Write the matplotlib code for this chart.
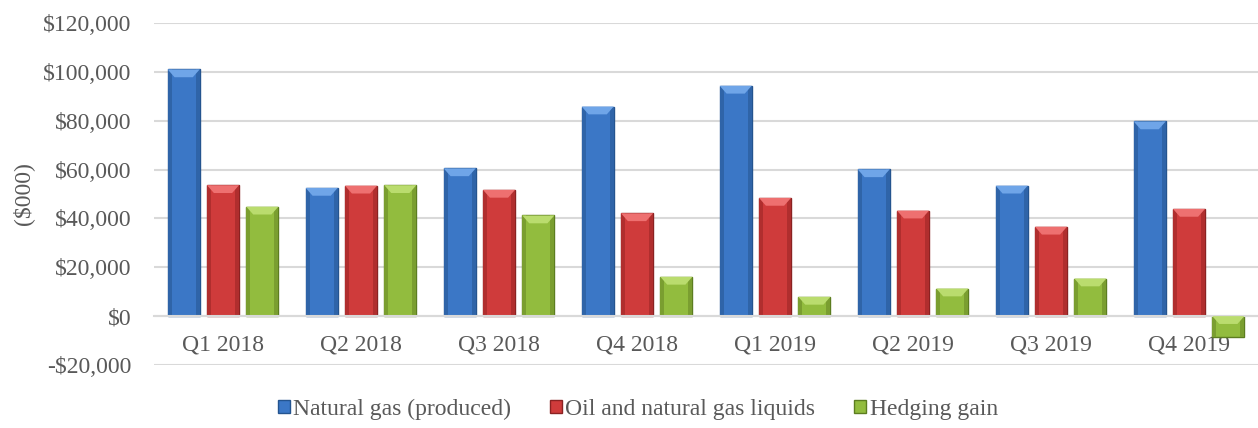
import numpy as np
import matplotlib
matplotlib.use('Agg')
import matplotlib.pyplot as plt
from matplotlib.patches import Polygon
from matplotlib.ticker import FuncFormatter

quarters = ['Q1 2018', 'Q2 2018', 'Q3 2018', 'Q4 2018', 'Q1 2019', 'Q2 2019', 'Q3 2019', 'Q4 2019']
natural_gas = [101000, 52500, 60500, 85800, 94300, 60100, 53400, 79700]
oil_ngl = [53600, 53400, 51700, 42100, 48400, 43200, 36600, 43900]
hedging = [44800, 53600, 41200, 16100, 7900, 11300, 15400, -8500]

series_names = ['Natural gas (produced)', 'Oil and natural gas liquids', 'Hedging gain']
face_cols = ['#3B77C6', '#CF3B3B', '#92BC3E']
edge_cols = ['#24548F', '#8A2222', '#5C7D20']
bevel_cols = ['#6FA5E8', '#EE7070', '#BADC6E']
side_cols = ['#2F64A8', '#B02E2E', '#7A9E30']

plt.rcParams['font.family'] = ['Liberation Serif', 'DejaVu Serif']
txt_col = '#595959'

fig = plt.figure(figsize=(12.58, 4.28), dpi=100)
ax = fig.add_axes([154/1258, 1 - 365/428, 1 - 154/1258, (365 - 23)/428])

x = np.arange(len(quarters))
step = 0.285
w = 0.232
bars = []
for k, vals in enumerate([natural_gas, oil_ngl, hedging]):
    b = ax.bar(x + (k - 1)*step, vals, width=w, color=face_cols[k], edgecolor=edge_cols[k],
               linewidth=1.0, label=series_names[k], zorder=2)
    bars.append(b)
    # bevel and side shading on each bar
    for p in b.patches:
        x0, wd = p.get_x(), p.get_width()
        lo = min(p.get_y(), p.get_y() + p.get_height())
        top = max(p.get_y(), p.get_y() + p.get_height())
        bw, bh = 0.05, 3200
        sw = 0.03
        ax.add_patch(Polygon([(x0, lo), (x0 + sw, lo), (x0 + sw, top), (x0, top)],
                             closed=True, facecolor=side_cols[k], edgecolor='none', zorder=2.5))
        ax.add_patch(Polygon([(x0 + wd - sw, lo), (x0 + wd, lo), (x0 + wd, top), (x0 + wd - sw, top)],
                             closed=True, facecolor=side_cols[k], edgecolor='none', zorder=2.5))
        ax.add_patch(Polygon([(x0, top), (x0 + wd, top), (x0 + wd - bw, top - bh), (x0 + bw, top - bh)],
                             closed=True, facecolor=bevel_cols[k], edgecolor='none', zorder=3))

ax.set_xlim(-0.5, len(quarters) - 0.5)
ax.set_ylim(-20000, 120000)
ax.set_yticks(np.arange(-20000, 120001, 20000))
ax.yaxis.set_major_formatter(FuncFormatter(lambda v, pos: ('-$' if v < 0 else '$') + f'{abs(int(v)):,}'))
ax.grid(axis='y', color='#D9D9D9', linewidth=1.5, zorder=0)
ax.set_axisbelow(True)
for s in ['top', 'right', 'left']:
    ax.spines[s].set_visible(False)
ax.spines['bottom'].set_position(('data', 0))
ax.spines['bottom'].set_color('#D9D9D9')
ax.spines['bottom'].set_linewidth(1.5)
ax.set_xticks(x)
ax.set_xticklabels(quarters)
ax.tick_params(axis='x', length=0, pad=13, labelsize=17, labelcolor=txt_col)
ax.tick_params(axis='y', length=0, pad=16, labelsize=17, labelcolor=txt_col)
ax.set_ylabel('($000)', fontsize=17, color=txt_col)
ax.yaxis.set_label_coords(-0.109, 0.5)

fig.legend(handles=bars, labels=series_names, loc='center', bbox_to_anchor=(0.507, 0.044), ncol=3,
           frameon=False, fontsize=17, handlelength=0.5, handleheight=0.5, handletextpad=0.15,
           columnspacing=1.65, labelcolor=txt_col)

fig.savefig('out.png', dpi=100)
